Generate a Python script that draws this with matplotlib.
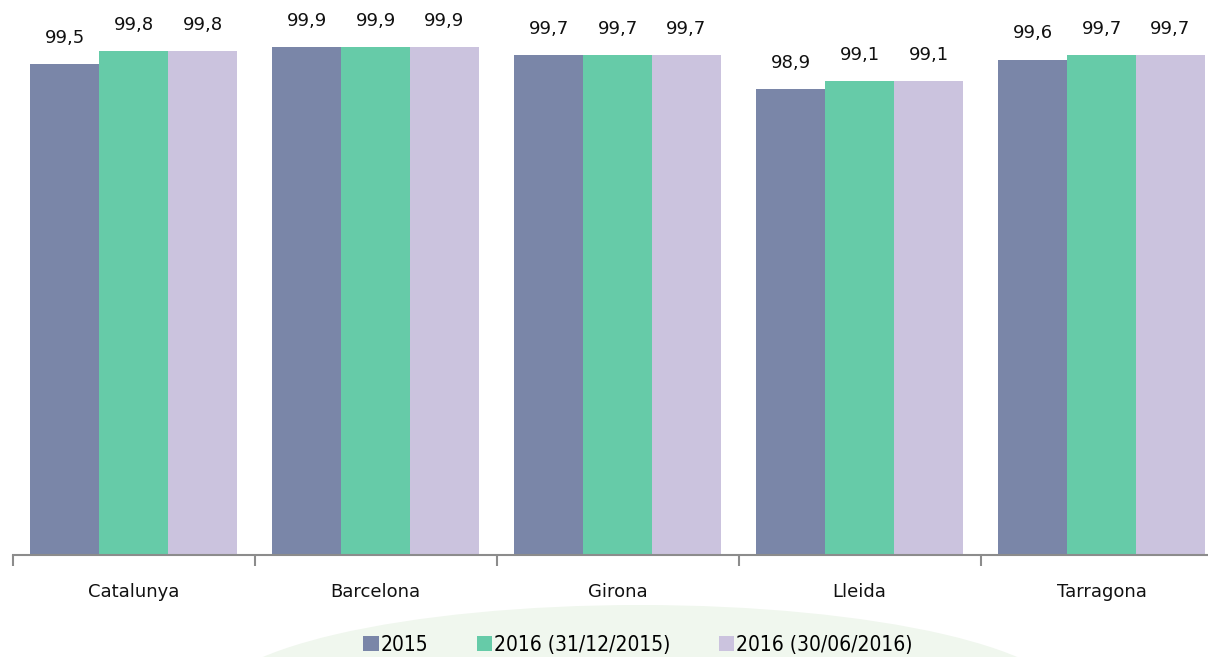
import matplotlib.pyplot as plt
import numpy as np
from matplotlib.patches import Ellipse

categories = ["Catalunya", "Barcelona", "Girona", "Lleida", "Tarragona"]
series_names = ["2015", "2016 (31/12/2015)", "2016 (30/06/2016)"]
v2015 = [99.5, 99.9, 99.7, 98.9, 99.6]
v2016_dec = [99.8, 99.9, 99.7, 99.1, 99.7]
v2016_jun = [99.8, 99.9, 99.7, 99.1, 99.7]
colors = ["#7A86A8", "#66CBA8", "#CBC3DE"]

W, H = 1208, 657
fig = plt.figure(figsize=(W / 100, H / 100), dpi=100)

# faint green swoosh behind the legend
fig.patches.append(Ellipse((640 / W, 1 - 705 / H), 860 / W, 200 / H,
                           transform=fig.transFigure, facecolor="#f0f7ee",
                           edgecolor="none", zorder=0))

ax = fig.add_axes([12.5 / W, 1 - 555 / H, (W - 12.5) / W, 545 / H])
ax.patch.set_alpha(0)

x = np.arange(len(categories))
bw = 0.285
for i, (vals, name) in enumerate(zip([v2015, v2016_dec, v2016_jun], series_names)):
    pos = x + (i - 1) * bw
    ax.bar(pos, vals, width=bw, color=colors[i], label=name, zorder=2)
    for p, v in zip(pos, vals):
        ax.text(p, v + 0.4, f"{v:.1f}".replace(".", ","), ha="center", va="bottom",
                fontsize=13, color="#111111", zorder=4)

ax.set_yticks([])
for s in ["top", "right", "left"]:
    ax.spines[s].set_visible(False)
ax.spines["bottom"].set_color("#8c8c8c")
ax.spines["bottom"].set_linewidth(1.5)

ax.set_xticks(np.arange(-0.5, 5, 1.0), minor=False)
ax.set_xticklabels([])
ax.tick_params(axis="x", which="major", length=8, width=1.5, color="#8c8c8c", direction="out")
ax.set_xticks(x, minor=True)
ax.set_xticklabels(categories, minor=True, fontsize=13, color="#111111")
ax.tick_params(axis="x", which="minor", length=0, pad=20)

ax.set_ylim(88, 100.76)
ax.set_xlim(-0.5, 4.5 - 14.5 / 242)

leg = fig.legend(loc="center", bbox_to_anchor=(638 / W, 1 - 645 / H), ncol=3,
                 frameon=False, prop={"family": "DejaVu Sans", "stretch": "condensed", "size": 15},
                 handlelength=0.75, handleheight=0.75,
                 handletextpad=0.1, columnspacing=2.3)

fig.savefig("out.png", dpi=100)
